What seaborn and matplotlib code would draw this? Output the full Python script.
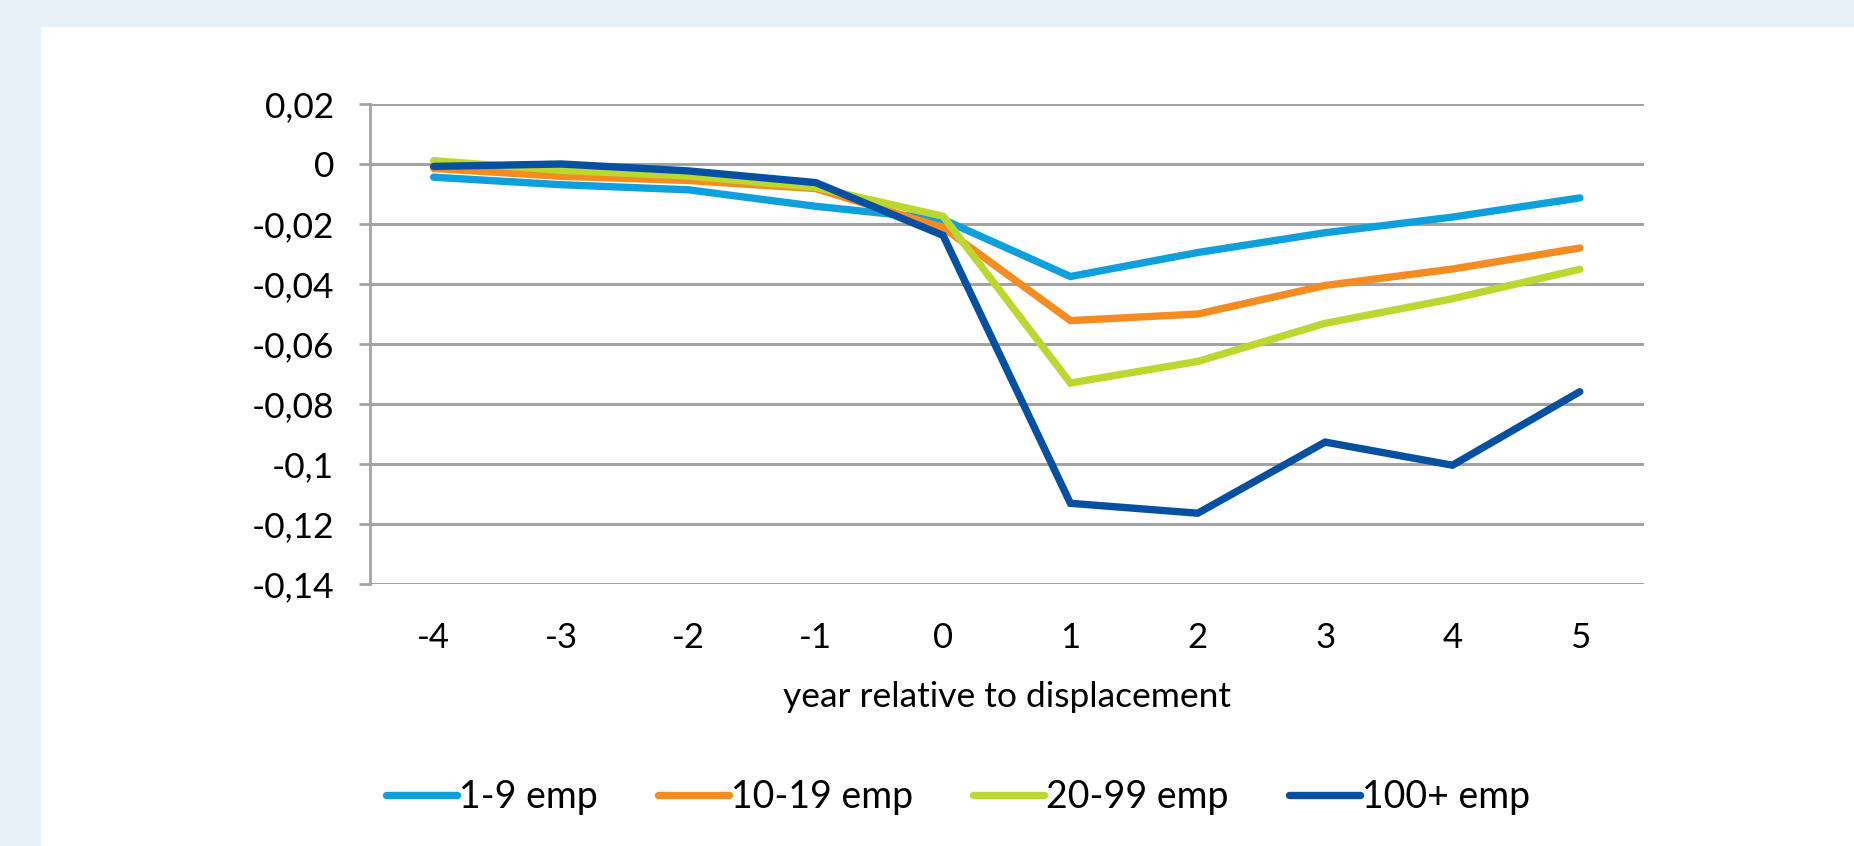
import matplotlib
matplotlib.use("Agg")
import matplotlib.pyplot as plt
from matplotlib.patches import Rectangle
from matplotlib.lines import Line2D
import seaborn as sns
import pandas as pd

# ---- data ----
years = [-4, -3, -2, -1, 0, 1, 2, 3, 4, 5]
groups = ["1-9 emp", "10-19 emp", "20-99 emp", "100+ emp"]
emp_1_9 = [-0.0044, -0.0069, -0.0086, -0.0141, -0.0185, -0.0375, -0.0295, -0.0229, -0.0177, -0.0113]
emp_10_19 = [-0.0015, -0.0041, -0.0055, -0.0082, -0.0212, -0.0522, -0.0500, -0.0405, -0.0350, -0.0280]
emp_20_99 = [0.0011, -0.0021, -0.0040, -0.0078, -0.0174, -0.0730, -0.0658, -0.0531, -0.0449, -0.0351]
emp_100 = [-0.0008, 0.0000, -0.0023, -0.0062, -0.0238, -0.1131, -0.1164, -0.0927, -0.1004, -0.0759]
y_ticks = [0.02, 0.0, -0.02, -0.04, -0.06, -0.08, -0.10, -0.12, -0.14]
x_title = "year relative to displacement"

colors = ["#0ea0dc", "#f48c21", "#bed630", "#0550a0"]

series = [emp_1_9, emp_10_19, emp_20_99, emp_100]
rows = []
for g, vals in zip(groups, series):
    for yr, v in zip(years, vals):
        rows.append({"year": yr, "value": v, "group": g})
df = pd.DataFrame(rows)

sns.set_theme(style="white")
plt.rcParams["font.family"] = ["Lato", "DejaVu Sans"]

W, H = 1854, 846
fig = plt.figure(figsize=(W / 100, H / 100), dpi=100)
fig.patch.set_facecolor("#e7eff8")
bg = Rectangle((41 / W, 0), 1 - 41 / W, 1 - 27 / H,
               transform=fig.transFigure, facecolor="white",
               edgecolor="none", zorder=-10)
fig.patches.append(bg)

ax = fig.add_axes([370 / W, 1 - 584 / H, (1643.5 - 370) / W, (584 - 104) / H])
ax.set_zorder(5)
ax.set_facecolor("none")

sns.lineplot(data=df, x="year", y="value", hue="group", hue_order=groups,
             palette=colors, linewidth=5.3, errorbar=None, ax=ax, sort=True,
             legend=False)
for ln in ax.get_lines():
    ln.set_solid_capstyle("round")
    ln.set_solid_joinstyle("miter")
    ln.set_zorder(3)

ax.set_xlim(-4.5, 5.5)
ax.set_ylim(-0.14, 0.02)
ax.set_yticks(y_ticks)

def fmt(v):
    s = f"{round(v, 4):g}"
    if s == "-0":
        s = "0"
    return s.replace(".", ",")

ax.set_yticklabels([fmt(v) for v in y_ticks])
ax.set_xticks(years)
ax.set_xticklabels([str(y) for y in years])

grid_c = "#a3a3a3"
for v in y_ticks:
    ax.axhline(v, color=grid_c, lw=2.2, zorder=0.5)

for s in ["top", "right", "bottom"]:
    ax.spines[s].set_visible(False)
ax.spines["left"].set_color(grid_c)
ax.spines["left"].set_linewidth(2.0)
ax.spines["left"].set_zorder(0.6)

ax.tick_params(axis="y", which="both", left=True, length=8, width=2.0,
               color=grid_c, pad=18, labelsize=25.5, labelcolor="black")
ax.tick_params(axis="x", which="both", bottom=False, length=0, pad=27,
               labelsize=25, labelcolor="black")
ax.set_xlabel(x_title, fontsize=25.5, labelpad=20, color="black")
ax.set_ylabel("")

handles = [Line2D([0], [0], color=c, lw=5.3, solid_capstyle="round") for c in colors]
leg = fig.legend(handles, groups, loc="center", bbox_to_anchor=(958 / W, 1 - 797 / H),
                 ncol=4, frameon=False, fontsize=27, handlelength=1.9,
                 handletextpad=0.05, columnspacing=1.6)
for t in leg.get_texts():
    t.set_color("black")

fig.savefig("out.png", dpi=100, facecolor=fig.get_facecolor())
